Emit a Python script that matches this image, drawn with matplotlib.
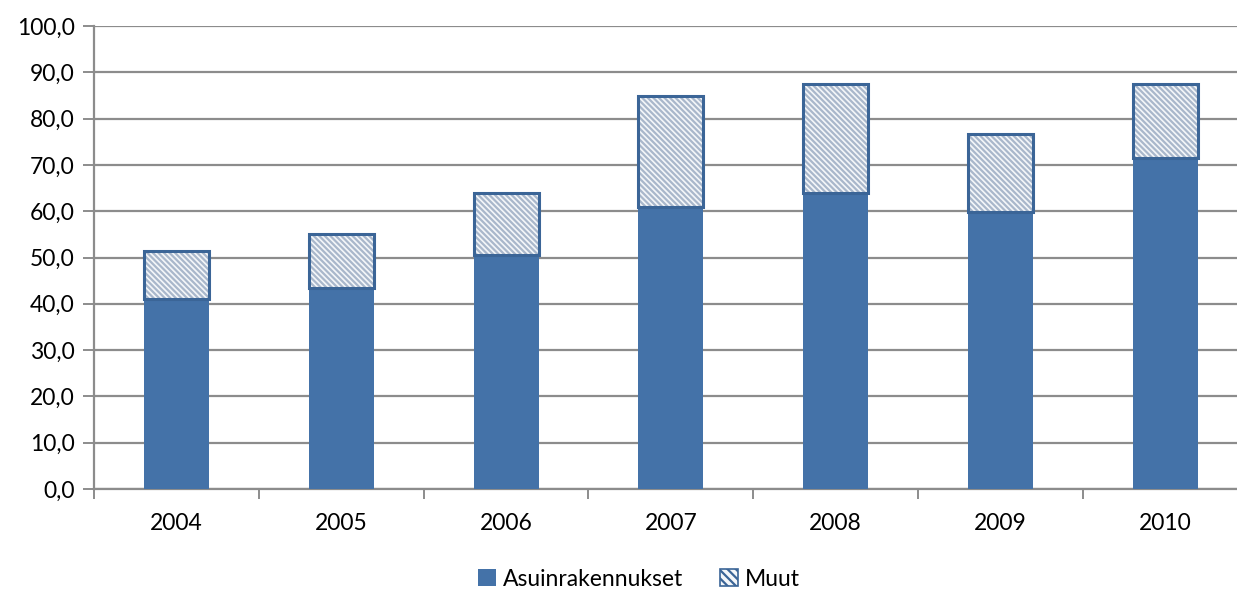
import matplotlib
matplotlib.use("Agg")
import matplotlib.pyplot as plt
from matplotlib.patches import Patch
import numpy as np

years = ["2004", "2005", "2006", "2007", "2008", "2009", "2010"]
asuin = [41.0, 43.5, 50.5, 61.0, 64.0, 59.8, 71.5]
muut = [10.5, 11.5, 13.5, 23.8, 23.5, 16.9, 16.0]
yticks = [0, 10, 20, 30, 40, 50, 60, 70, 80, 90, 100]

plt.rcParams['font.family'] = ['Lato', 'DejaVu Sans']
plt.rcParams['hatch.linewidth'] = 1.6

W, H = 1237, 590
fig = plt.figure(figsize=(W/100, H/100), dpi=100)
left, bottom, top = 94, 489, 26
catw = 164.8
ax = fig.add_axes([left/W, (H-bottom)/H, 7*catw/W, (bottom-top)/H])

x = np.arange(len(years))
bw = 65/catw
blue = "#4472a8"
edge = "#3b6597"
hatchc = "#a9b7cb"
ax.bar(x, asuin, width=bw, color=blue, edgecolor="none", zorder=3)
ax.bar(x, muut, bottom=asuin, width=bw, facecolor="#f4f6f9", edgecolor=hatchc,
       hatch="\\\\\\\\\\\\", linewidth=0, zorder=3)
ax.bar(x, muut, bottom=asuin, width=bw, facecolor="none", edgecolor=edge,
       linewidth=2.2, zorder=4)

ax.set_xlim(-0.5, len(years)-0.5)
ax.set_ylim(0, 100)
ax.set_yticks(yticks)
ax.set_yticklabels([f"{v:.1f}".replace(".", ",") for v in yticks], fontsize=16.5)
ax.yaxis.grid(True, color="#8c8c8c", linewidth=1.6, zorder=0)
ax.set_axisbelow(True)

ax.set_xticks(x)
ax.set_xticklabels(years, fontsize=16.5)
ax.set_xticks(np.arange(len(years)+1) - 0.5, minor=True)
ax.tick_params(axis="x", which="major", length=0, pad=17)
ax.tick_params(axis="x", which="minor", length=7, width=1.4, color="#8c8c8c")
ax.tick_params(axis="y", length=8, width=1.4, color="#8c8c8c", pad=6)

for s in ["top", "right"]:
    ax.spines[s].set_visible(False)
for s in ["left", "bottom"]:
    ax.spines[s].set_color("#8c8c8c")
    ax.spines[s].set_linewidth(1.6)

handles = [Patch(facecolor=blue, edgecolor="none", label="Asuinrakennukset"),
           Patch(facecolor="#f4f6f9", edgecolor=edge, hatch="\\\\\\\\", linewidth=1.2, label="Muut")]
fig.legend(handles=handles, loc="center", bbox_to_anchor=(639/W, 1-579/H), ncol=2,
           frameon=False, fontsize=16.5, handlelength=0.8, handleheight=0.8,
           handletextpad=0.3, columnspacing=1.6)

fig.savefig("out.png", dpi=100)
